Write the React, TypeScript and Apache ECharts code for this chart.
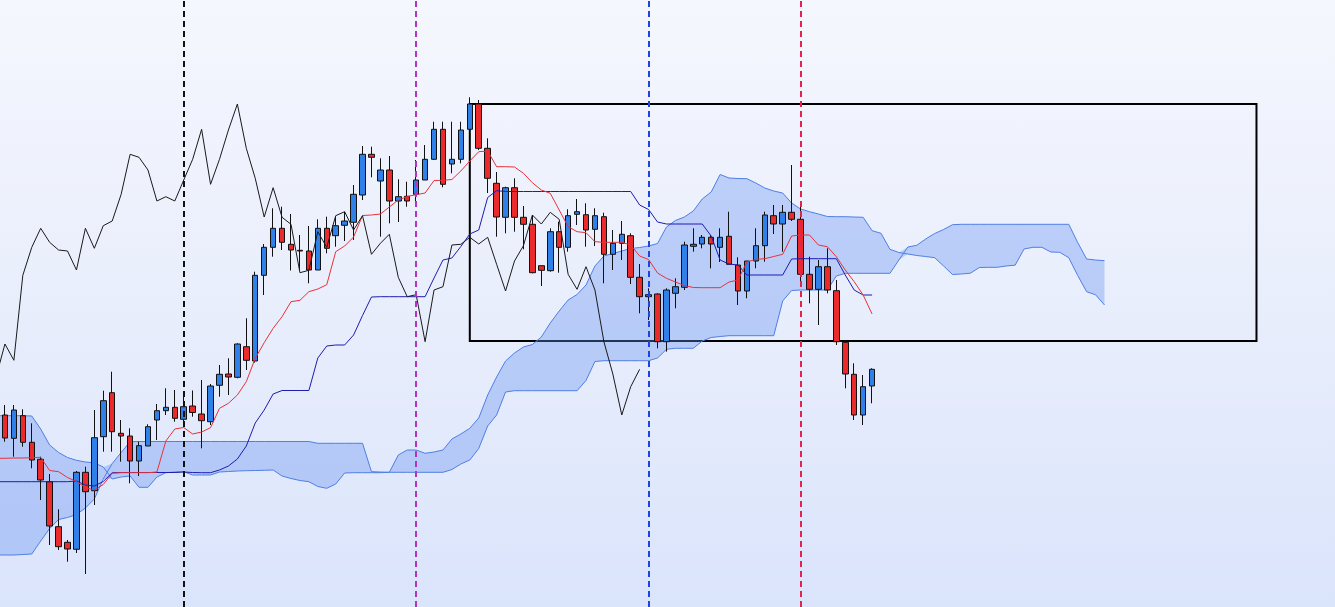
import React, { useEffect, useRef } from "react";
import * as echarts from "echarts";

// Candles (index 0..97)
const opens = [
  192, 168.7, 191.3, 164.7, 147.7, 125.3, 80.3, 64.7, 57.7, 134.7,
  116.3, 170.3, 214.3, 173.7, 171, 146, 161, 187, 196.3, 199.7,
  187.7, 201, 193, 185.3, 221.7, 233, 229.7, 260.3, 246, 331.7,
  359.7, 378.7, 362.7, 356.7, 356, 337, 378.7, 371.3, 381.7, 384.7,
  412, 452.7, 426, 437, 406, 410.7, 412.7, 427, 447.7, 477.7,
  443, 447.7, 477.7, 503, 458.7, 423.7, 389.7, 419.3, 389.7, 382.7,
  341.3, 336.3, 375.3, 359.7, 392.7, 392.3, 377.7, 390.3, 352.7, 363.7,
  371.3, 329.7, 310.3, 313, 265.3, 313.7, 319.7, 360.7, 363, 369.7,
  359.7, 370.7, 342, 316, 346, 361.3, 391.3, 383, 394.7, 387.7,
  332.7, 317.7, 340.3, 316.3, 264.7, 232.7, 192, 221,
];
const closes = [
  169, 197, 164.7, 147, 127, 81, 60.3, 58, 134.7, 115.3,
  169.3, 206.3, 175.3, 171, 146, 161.3, 180.3, 196.3, 199.7, 188.7,
  200.3, 194.5, 186.3, 221, 232.7, 230, 263, 246.7, 331.7, 359.7,
  378.7, 364.7, 357, 356, 337, 378.7, 358.7, 381.3, 386, 412.7,
  452.7, 449.7, 437, 406, 410.3, 406, 427, 447.7, 477.7, 422.7,
  447.7, 477, 503, 458.7, 428.7, 390, 419.3, 389.7, 382.7, 334.3,
  336.7, 375.3, 359.7, 391.3, 395.3, 377, 391.3, 352.7, 363.7, 372.7,
  329.7, 310.3, 312.3, 265.3, 317, 320.3, 362, 362.7, 369.7, 363,
  369.7, 342.7, 316, 346, 361.3, 392, 383, 394.7, 387.7, 332.7,
  317.7, 340.3, 317, 265.3, 233, 192, 220.3, 237.7,
];
const lows = [
  165.3, 150.3, 160.3, 138.7, 107, 62, 57, 45.3, 54, 33,
  102, 155.3, 155.3, 145.3, 123.7, 131, 161, 167, 192, 185.3,
  183.7, 190.3, 158.7, 182, 210.3, 212, 228.7, 237, 244.3, 312,
  350.3, 357, 336.5, 337, 323.7, 337, 353.7, 360.3, 366, 367,
  407, 429.7, 370.3, 383.7, 385, 400.3, 402, 427, 447, 419.7,
  433.7, 443.7, 477.7, 457, 414, 370.3, 373.7, 375.3, 357.7, 333.7,
  321, 335.3, 334.3, 355.3, 382, 360.3, 361, 323.7, 337, 347,
  323, 293.7, 287, 258.7, 255.3, 298.7, 317, 355.3, 358.7, 338.7,
  345, 342.7, 302, 308.7, 338.7, 345.3, 373, 355.3, 386, 325.3,
  303.7, 282, 313.7, 262, 218.7, 187, 182, 203.7,
];
const highs = [
  202, 202, 197.7, 183.7, 150.3, 133, 97.7, 67, 136, 140.3,
  197, 216.3, 235.3, 187, 178.7, 165.3, 182.7, 203, 218.7, 217,
  212, 216.5, 227, 223, 242, 248.7, 263.7, 288.7, 335.3, 363,
  398.7, 400.3, 393, 372, 381, 387.7, 390.3, 390.3, 395.3, 422,
  461, 460.3, 448.7, 451, 427.7, 425.3, 447, 462, 485.3, 485.3,
  485.3, 485.3, 509.7, 507, 468.7, 435, 420.3, 428.7, 401, 392,
  341.3, 378.7, 385.3, 397.7, 408, 403.7, 398.7, 394.3, 377, 386,
  373.7, 343, 318.7, 313.7, 318.7, 328.7, 365.3, 378.7, 372, 372,
  378.7, 395.3, 349.7, 346, 378.7, 395.3, 402, 402, 442, 403.7,
  350.3, 347, 358.7, 327, 267, 243.7, 232, 238.7,
];

// Lines, starting one period before the first candle (index -1)
const tenkan = [
  148.7, 148.7, 149, 149, 149.3, 149.7, 136.5, 135.3, 129.5, 125.5,
  119.5, 117, 122.5, 133.7, 134.3, 134.3, 134.3, 134.3, 135, 166,
  178, 179.5, 173, 175, 179.3, 198.7, 203.7, 212, 225.3, 248.7,
  264.3, 278.7, 290.3, 305.3, 306.7, 315.3, 318, 322.3, 355.3, 361,
  370, 391.5, 392, 393, 400, 407, 410.5, 412.3, 414, 426.5,
  426.7, 427.5, 436, 446, 455.3, 456, 440.3, 440.3, 440, 433.7,
  424.3, 417, 413.7, 397, 380.3, 375.3, 374.3, 365.3, 364.7, 364.7,
  364.7, 362, 351, 347.5, 334, 328.7, 325, 321.5, 319.5, 319.3,
  319.3, 319.3, 325, 327, 345, 347.7, 348.3, 350.5, 352.7, 371,
  372, 372, 362, 360.3, 350.3, 337, 325.3, 312, 293,
];
const kijun = [
  125.3, 125.3, 125.3, 125.3, 125.3, 125.3, 125.3, 125.3, 125.3, 126,
  122, 121, 125.5, 134.3, 134.5, 134.5, 134.5, 134.5, 134.5, 134.5,
  134.5, 135, 134.5, 134.3, 134.3, 137, 141, 148, 161, 184,
  197, 213, 216.5, 216.5, 216.5, 216.5, 249, 261, 262, 262,
  272, 291.5, 310, 310.3, 310.3, 310.3, 310.3, 310.3, 310.3, 329,
  347, 349, 360.5, 373, 377, 409.5, 416.3, 415.5, 415.5, 415.5,
  415.5, 415.5, 415.5, 415.5, 415.5, 415.5, 415.5, 415.5, 415.5, 415.5,
  415.5, 415.5, 402, 397.5, 385, 383, 383, 383, 383, 383,
  371, 347, 343, 342, 332, 332, 332, 332, 332, 348,
  348.3, 348.3, 348.3, 348.3, 348.3, 332, 317, 312, 312,
];
// Cloud spans (index -1 .. 123)
const spanA = [
  191.3, 191.3, 191.3, 191.3, 191, 178, 162, 154.5, 149.5, 146.7,
  145, 144.2, 140, 128, 130, 131, 119.7, 119.7, 130, 134.3,
  135, 135.3, 132, 132, 132, 135, 135.5, 136, 136.3, 136.5,
  136.7, 137, 131, 128.5, 126.5, 125.3, 120.5, 118.7, 123, 134,
  134.3, 134.3, 134.3, 134.3, 134.7, 152, 157, 157, 153.7, 155,
  157, 168, 173, 178.7, 189, 212, 230, 246, 254, 260,
  262.5, 270, 284, 296, 307, 312.5, 322, 341, 351, 353.5,
  356, 358.5, 359.5, 361, 363.5, 380, 386.5, 390, 396, 408,
  415, 432.5, 429, 428.5, 428.3, 424, 419, 416, 414, 404,
  398, 395.3, 393, 390.5, 390.3, 390.3, 390, 389.7, 376.3, 373.7,
  357.7, 354.5, 353, 351.5, 350.5, 349.3, 341, 332.5, 333, 333.8,
  339.5, 339.7, 339.7, 341, 341.8, 358, 359.7, 359.7, 355, 354.7,
  349.3, 331.5, 315.3, 312.2, 302,
];
const spanB = [
  52, 52, 52, 52.5, 53, 66, 78.5, 87.5, 89.5, 92.5,
  99, 108, 128, 143.5, 154.5, 165.3, 165.5, 165.5, 165.5, 165.5,
  165.5, 165.5, 165.5, 165.5, 165.5, 165.5, 165.5, 165.5, 165.5, 165.5,
  165.5, 165.5, 165.5, 165.5, 165.5, 165.5, 163.7, 163.7, 163.7, 163.7,
  163.7, 163.7, 135.3, 135, 134.7, 134.7, 134.7, 134.7, 134.7, 134.7,
  134.7, 137.5, 143, 147, 158.5, 181, 192, 215, 216.3, 216.3,
  216.3, 216.3, 216.3, 216.3, 216.3, 216.3, 226.5, 245.5, 246.3, 246.3,
  246.3, 246.3, 246.3, 246.3, 249, 257.7, 258.7, 258.7, 258.7, 266,
  269.5, 270.5, 271.3, 271.3, 271.3, 271.3, 271.3, 271.3, 306, 316.5,
  317, 317, 317, 317, 331, 333.7, 333.7, 333.7, 333.7, 333.7,
  333.7, 347, 360, 361.7, 368, 373.5, 377.5, 382.3, 382.7, 382.7,
  382.7, 382.7, 382.7, 382.7, 382.7, 382.7, 382.7, 382.7, 382.7, 382.7,
  382.7, 364.5, 348, 347, 346.3,
];

// Periods from -1 to 148
const categories = Array.from({ length: 150 }, (_, k) => String(k - 1));
const markerPeriods = ["20", "46", "72", "89"];
const markerColors = ["#111111", "#b234c2", "#1f45e0", "#e3234f"];
const boxFrom = { period: "52", level: 503 };
const boxTo = { period: "140", level: 266 };

export default function App() {
  const ref = useRef<HTMLDivElement>(null);
  useEffect(() => {
    const chart = echarts.init(ref.current!, undefined, { renderer: "svg" });
    const fromMinus1 = (arr: number[]) =>
      categories.map((_, j) => (j < arr.length ? arr[j] : "-"));
    const candleData = categories.map((_, j) => {
      const i = j - 1;
      return i >= 0 && i < opens.length
        ? [opens[i], closes[i], lows[i], highs[i]]
        : ["-", "-", "-", "-"];
    });
    const chikou = categories.map((_, j) =>
      j + 25 < closes.length ? closes[j + 25] : "-"
    );
    const cloudBase = categories.map((_, j) =>
      j < spanA.length ? Math.min(spanA[j], spanB[j]) : "-"
    );
    const cloudBand = categories.map((_, j) =>
      j < spanA.length ? Math.abs(spanA[j] - spanB[j]) : "-"
    );
    const lineBase = { type: "line", symbol: "none", silent: true, smooth: false } as any;

    chart.setOption({
      animation: false,
      backgroundColor: "transparent",
      grid: { left: 0, right: 0, top: 0, bottom: 0 },
      xAxis: { type: "category", data: categories, boundaryGap: false, show: false },
      yAxis: { type: "value", min: 0, max: 607, show: false },
      series: [
        { ...lineBase, z: 1, name: "cloudBase", stack: "cloud", data: cloudBase, lineStyle: { opacity: 0 } },
        {
          ...lineBase, z: 1, name: "cloud", stack: "cloud", data: cloudBand,
          lineStyle: { opacity: 0 }, areaStyle: { color: "rgba(100,145,240,0.36)", opacity: 1 },
        },
        { ...lineBase, z: 2, name: "Senkou A", data: fromMinus1(spanA), lineStyle: { color: "#4f7fe4", width: 1 } },
        { ...lineBase, z: 2, name: "Senkou B", data: fromMinus1(spanB), lineStyle: { color: "#4f7fe4", width: 1 } },
        {
          type: "candlestick", z: 3, name: "Price", data: candleData, barWidth: 6, silent: true,
          itemStyle: {
            color: "#2f80e8", color0: "#ec2a2c",
            borderColor: "#111", borderColor0: "#111", borderWidth: 1, opacity: 1,
          },
        },
        { ...lineBase, z: 4, name: "Kijun", data: fromMinus1(kijun), lineStyle: { color: "#1d1db0", width: 1 } },
        { ...lineBase, z: 4, name: "Tenkan", data: fromMinus1(tenkan), lineStyle: { color: "#e83238", width: 1 } },
        { ...lineBase, z: 4, name: "Chikou", data: chikou, lineStyle: { color: "#1a1a1a", width: 1 } },
        {
          ...lineBase, z: 5, name: "markers", data: [],
          markLine: {
            silent: true, symbol: "none", label: { show: false },
            data: markerPeriods.map((p, k) => ({
              xAxis: p,
              lineStyle: { color: markerColors[k], width: 2, type: [6, 4] },
            })),
          },
          markArea: {
            silent: true,
            itemStyle: { color: "rgba(0,0,0,0)", borderColor: "#000", borderWidth: 2 },
            data: [[{ xAxis: boxFrom.period, yAxis: boxFrom.level }, { xAxis: boxTo.period, yAxis: boxTo.level }]],
          },
        },
      ],
    });
    return () => chart.dispose();
  }, []);
  return (
    <div
      style={{
        position: "absolute", left: 0, top: 0, width: 1335, height: 607, overflow: "hidden",
        background: "linear-gradient(to bottom, #f5f7fe 0%, #e9eefc 50%, #dae4fb 100%)",
      }}
    >
      <div ref={ref} style={{ position: "absolute", left: -4, top: 0, width: 1332, height: 607 }} />
    </div>
  );
}
